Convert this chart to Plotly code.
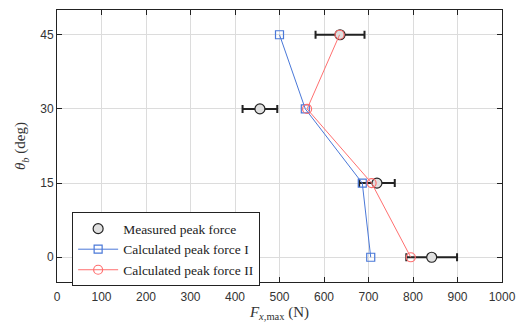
import plotly.graph_objects as go

angles = [45, 30, 15, 0]
measured = [636, 456, 719, 842]
measured_err = [55, 39, 40, 57]
calc_1 = [500, 558, 686, 705]
calc_2 = [635, 562, 707, 795]
x_ticks = [0, 100, 200, 300, 400, 500, 600, 700, 800, 900, 1000]
y_ticks = [0, 15, 30, 45]

fig = go.Figure()
fig.add_trace(go.Scatter(
    x=measured, y=angles, mode="markers", name="Measured peak force",
    marker=dict(symbol="circle", size=10, color="#e0e0e0", line=dict(color="#222222", width=1.2)),
    error_x=dict(type="data", array=measured_err, color="#222222", thickness=2, width=4),
))
fig.add_trace(go.Scatter(
    x=calc_1, y=angles, mode="lines+markers", name="Calculated peak force I",
    line=dict(color="#4a78d8", width=1),
    marker=dict(symbol="square-open", size=8, color="#4a78d8", line=dict(width=1.2)),
))
fig.add_trace(go.Scatter(
    x=calc_2, y=angles, mode="lines+markers", name="Calculated peak force II",
    line=dict(color="#ff7070", width=1),
    marker=dict(symbol="circle-open", size=9, color="#ff7070", line=dict(width=1.2)),
))

axis_common = dict(
    showline=True, linecolor="#222222", linewidth=1, mirror="ticks",
    ticks="inside", ticklen=5, tickcolor="#222222",
    showgrid=True, gridcolor="#dcdcdc", gridwidth=1, zeroline=False,
    tickfont=dict(family="Liberation Sans, Arial", size=12, color="#333333"),
)
fig.update_xaxes(range=[0, 1000], tickvals=x_ticks, **axis_common, ticklabelstandoff=4,
                 title=dict(text="<i>F</i><sub><i>x</i>,max</sub> (N)",
                            font=dict(family="Liberation Serif, serif", size=15, color="#333333"),
                            standoff=0))
fig.update_yaxes(range=[-5, 50], tickvals=y_ticks, **axis_common,
                 title=dict(text="<i>θ</i><sub><i>b</i></sub> (deg)",
                            font=dict(family="Liberation Serif, serif", size=15, color="#333333"),
                            standoff=10))

fig.update_layout(
    width=531, height=322,
    margin=dict(l=57, r=29, t=10, b=40, autoexpand=False),
    plot_bgcolor="white", paper_bgcolor="white",
    legend=dict(
        x=0.034, y=0.256, xanchor="left", yanchor="top",
        bgcolor="white", bordercolor="#222222", borderwidth=1,
        font=dict(family="Liberation Serif, serif", size=13.5, color="#222222"),
        itemwidth=40, tracegroupgap=0,
    ),
    showlegend=True,
)
fig.write_html("out.html", post_script="document.body.style.margin='0';",
               config={"displayModeBar": False})
